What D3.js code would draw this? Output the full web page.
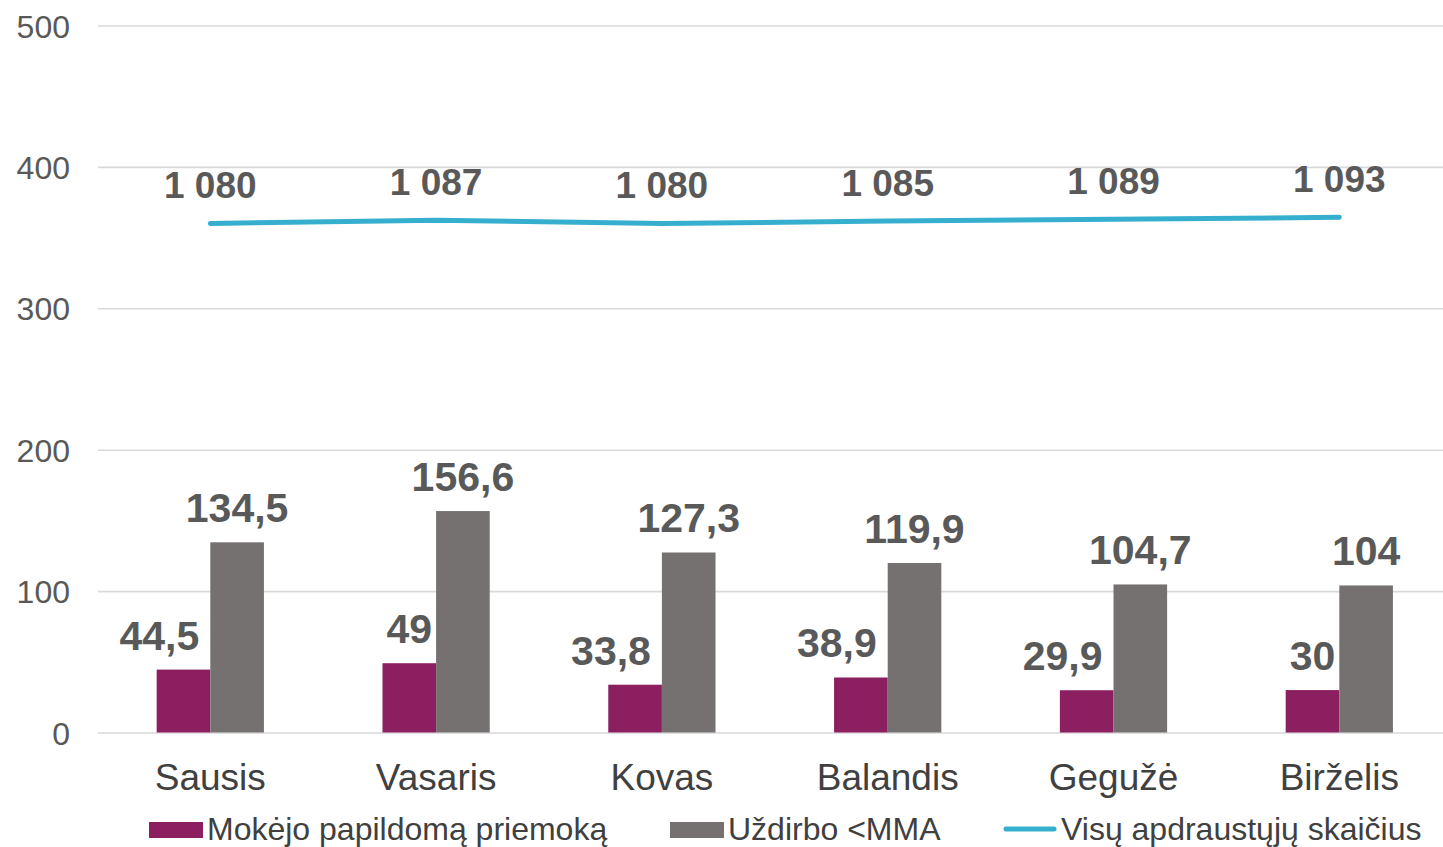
<!DOCTYPE html>
<html>
<head>
<meta charset="utf-8">
<script src="https://cdn.jsdelivr.net/npm/d3@7"></script>
<style>
  html, body { margin: 0; padding: 0; background: #fff; }
  svg { display: block; font-family: "Liberation Sans", Arial, sans-serif; }
</style>
</head>
<body>
<svg id="chart" width="1443" height="847"></svg>
<script>
const categories = ["Sausis", "Vasaris", "Kovas", "Balandis", "Gegužė", "Birželis"];
const seriesNames = ["Mokėjo papildomą priemoką", "Uždirbo <MMA", "Visų apdraustųjų skaičius"];
const paidSupplement = [44.5, 49, 33.8, 38.9, 29.9, 30];
const earnsBelowMMA = [134.5, 156.6, 127.3, 119.9, 104.7, 104];
const totalInsured = [1080, 1087, 1080, 1085, 1089, 1093];
const yTicks = [0, 100, 200, 300, 400, 500];

const colors = { purple: "#8B1F5F", gray: "#767171", line: "#36AFCF", grid: "#D9D9D9" };

const svg = d3.select("#chart");
const plotLeft = 98, plotRight = 1443;

const y = d3.scaleLinear().domain([0, 500]).range([732.5, 25.5]);
const y2 = d3.scaleLinear().domain([0, 1500]).range([732.5, 25.5]);
const x = d3.scaleBand().domain(categories).range([97.4, 1452.2]).paddingInner(0.525).paddingOuter(0.2625);
const x1 = d3.scaleBand().domain([0, 1]).range([0, x.bandwidth()]);

// grid + y axis
const yAxis = d3.axisLeft(y).tickValues(yTicks).tickSize(-(plotRight - plotLeft)).tickPadding(28).tickFormat(d3.format("d"));
const gy = svg.append("g").attr("transform", `translate(${plotLeft},0)`).call(yAxis);
gy.select(".domain").remove();
gy.selectAll(".tick line").attr("stroke", colors.grid).attr("stroke-width", 1.6);
gy.selectAll(".tick text").attr("fill", "#595959").attr("font-size", 32).attr("dy", "0.36em");

// bars
const rows = categories.map((c, i) => ({ cat: c, vals: [paidSupplement[i], earnsBelowMMA[i]] }));
const barColors = [colors.purple, colors.gray];
const groups = svg.append("g").selectAll("g").data(rows).join("g")
  .attr("transform", d => `translate(${x(d.cat)},0)`);
groups.selectAll("rect").data(d => d.vals.map((v, k) => ({ v, k }))).join("rect")
  .attr("x", d => x1(d.k))
  .attr("width", x1.bandwidth())
  .attr("y", d => y(d.v))
  .attr("height", d => y(0) - y(d.v))
  .attr("fill", d => barColors[d.k]);

const fmtBar = v => String(v).replace(".", ",");
// bar labels
groups.each(function(d) {
  const g = d3.select(this);
  d.vals.forEach((v, k) => {
    const cx = x1(k) + x1.bandwidth() / 2;
    const t = g.append("text")
      .attr("x", cx)
      .attr("y", y(v) - 20)
      .attr("text-anchor", "middle")
      .attr("font-size", 41)
      .attr("font-weight", "bold")
      .attr("fill", "#595959")
      .text(fmtBar(v));
    if (k === 0) {
      const w = t.node().getComputedTextLength();
      const barRight = x1(k) + x1.bandwidth();
      if (cx + w / 2 > barRight) {
        t.attr("text-anchor", "end").attr("x", barRight - 11);
      }
    }
  });
});

// line
const lt = d3.formatLocale({ decimal: ",", thousands: "\u00a0", grouping: [3], currency: ["", ""] });
const fmtLine = lt.format(",d");
const pts = categories.map((c, i) => ({ cat: c, v: totalInsured[i] }));
const line = d3.line().x(d => x(d.cat) + x.bandwidth() / 2).y(d => y2(d.v));
svg.append("path").datum(pts).attr("d", line)
  .attr("fill", "none").attr("stroke", colors.line).attr("stroke-width", 5).attr("stroke-linecap", "round");
svg.append("g").selectAll("text").data(pts).join("text")
  .attr("x", d => x(d.cat) + x.bandwidth() / 2)
  .attr("y", d => y2(d.v) - 25)
  .attr("text-anchor", "middle")
  .attr("font-size", 37)
  .attr("font-weight", "bold")
  .attr("fill", "#595959")
  .text(d => fmtLine(d.v));

// x axis labels
const xAxis = d3.axisBottom(x).tickSize(0).tickPadding(0);
const gx = svg.append("g").call(xAxis);
gx.select(".domain").remove();
gx.selectAll(".tick text").attr("y", 790).attr("dy", 0).attr("fill", "#404040").attr("font-size", 37);

// legend
const legend = svg.append("g").attr("font-size", 32).attr("fill", "#404040");
const legItems = [
  { name: seriesNames[0], x: 149, type: "rect", color: colors.purple },
  { name: seriesNames[1], x: 670, type: "rect", color: colors.gray },
  { name: seriesNames[2], x: 1003, type: "line", color: colors.line }
];
legItems.forEach(it => {
  if (it.type === "rect") {
    legend.append("rect").attr("x", it.x).attr("y", 822).attr("width", 54).attr("height", 16).attr("fill", it.color);
  } else {
    legend.append("line").attr("x1", it.x + 3).attr("x2", it.x + 51).attr("y1", 829).attr("y2", 829)
      .attr("stroke", it.color).attr("stroke-width", 5).attr("stroke-linecap", "round");
  }
  legend.append("text").attr("x", it.x + 58).attr("y", 840).attr("fill", "#404040").text(it.name);
});
</script>
</body>
</html>
